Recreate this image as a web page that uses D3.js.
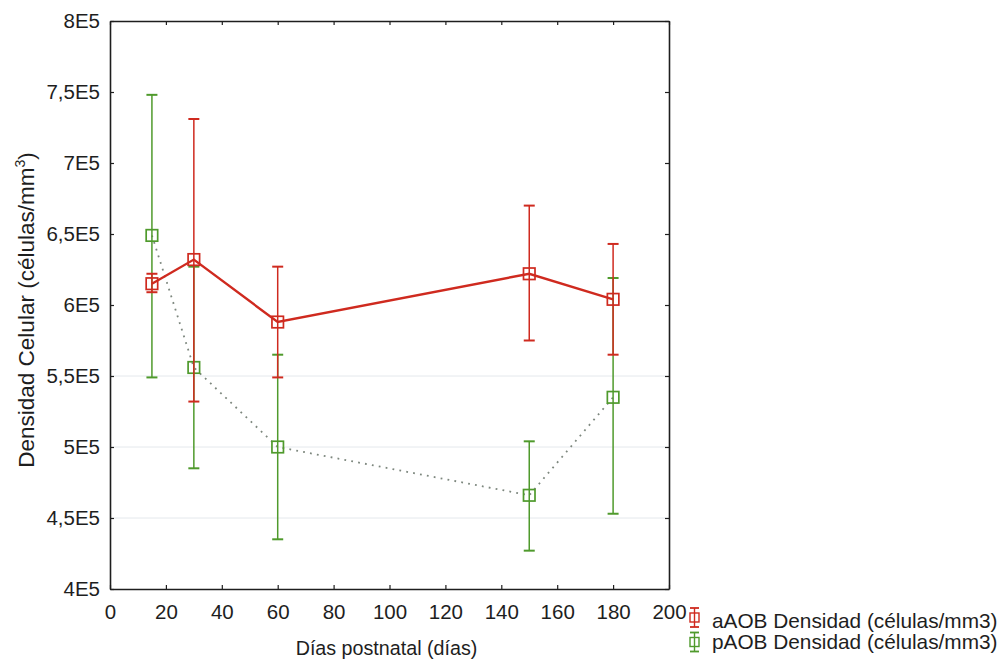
<!DOCTYPE html>
<html>
<head>
<meta charset="utf-8">
<script src="https://cdn.jsdelivr.net/npm/d3@7"></script>
<style>
  html, body { margin: 0; padding: 0; background: #fff; }
  svg { display: block; font-family: "Liberation Sans", Arial, sans-serif; }
</style>
</head>
<body>
<svg id="chart" width="1002" height="659"></svg>
<script>
// Postnatal days sampled
const days = [15, 30, 60, 150, 180];

// aAOB cell density: mean and error-bar limits
const aMean = [615000, 632000, 588000, 622000, 604000];
const aLow  = [609000, 532000, 549000, 575000, 565000];
const aHigh = [622000, 731000, 627000, 670000, 643000];

// pAOB cell density: mean and error-bar limits
const pMean = [649000, 556000, 500000, 466000, 535000];
const pLow  = [549000, 485000, 435000, 427000, 453000];
const pHigh = [748000, 627000, 565000, 504000, 619000];

const xTicks = [0, 20, 40, 60, 80, 100, 120, 140, 160, 180, 200];
const yTicks = [400000, 450000, 500000, 550000, 600000, 650000, 700000, 750000, 800000];
const yTickLabels = ["4E5", "4,5E5", "5E5", "5,5E5", "6E5", "6,5E5", "7E5", "7,5E5", "8E5"];
const gridValues = [450000, 500000, 550000];

const seriesNames = ["aAOB Densidad (células/mm3)", "pAOB Densidad (células/mm3)"];

const RED = "#cf2a1f";
const GREEN = "#4f9a2c";
const INK = "#1e1e1e";
const FONT = "'Liberation Sans', Arial, sans-serif";

const svg = d3.select("#chart");
const L = 110, R = 669, T = 21, B = 589;

const x = d3.scaleLinear().domain([0, 200]).range([L, R]);
const y = d3.scaleLinear().domain([400000, 800000]).range([B, T]);

// faint horizontal gridlines
svg.append("g").selectAll("line").data(gridValues).join("line")
  .attr("x1", L).attr("x2", R)
  .attr("y1", d => y(d)).attr("y2", d => y(d))
  .attr("stroke", "#e4e8ec").attr("stroke-width", 1);

// axes with inward ticks on all four sides
const fmtY = d => yTickLabels[yTicks.indexOf(d)];
const axL = svg.append("g").attr("transform", `translate(${L},0)`)
  .call(d3.axisLeft(y).tickValues(yTicks).tickFormat(fmtY).tickSizeInner(-4).tickSizeOuter(0).tickPadding(10));
const axB = svg.append("g").attr("transform", `translate(0,${B})`)
  .call(d3.axisBottom(x).tickValues(xTicks).tickFormat(d3.format("d")).tickSizeInner(-4).tickSizeOuter(0).tickPadding(10));
const axR = svg.append("g").attr("transform", `translate(${R},0)`)
  .call(d3.axisRight(y).tickValues(yTicks).tickFormat("").tickSizeInner(-4).tickSizeOuter(0));
const axT = svg.append("g").attr("transform", `translate(0,${T})`)
  .call(d3.axisTop(x).tickValues(xTicks).tickFormat("").tickSizeInner(-4).tickSizeOuter(0));

[axL, axB, axR, axT].forEach(g => {
  g.select(".domain").attr("stroke", INK).attr("stroke-width", 1.6);
  g.selectAll(".tick line").attr("stroke", INK).attr("stroke-width", 1.2);
  g.selectAll(".tick text").attr("fill", INK).attr("font-size", 20.5).attr("font-family", FONT);
});
axB.selectAll(".tick text").attr("y", 15).attr("dy", "0.71em");

// axis titles
svg.append("text")
  .attr("x", (L + R) / 2 - 3).attr("y", 655)
  .attr("text-anchor", "middle").attr("font-size", 19.7).attr("fill", INK)
  .text("Días postnatal (días)");

const yt = svg.append("text")
  .attr("transform", `translate(34,${(T + B) / 2 + 5}) rotate(-90)`)
  .attr("text-anchor", "middle").attr("font-size", 22.5).attr("fill", INK);
yt.append("tspan").text("Densidad Celular (células/mm");
yt.append("tspan").attr("font-size", 14).attr("dy", -9).text("3");
yt.append("tspan").attr("dy", 9).text(")");

const CAP = 5.5, SQ = 11.5;

function drawSeries(mean, low, high, color, lineStyle) {
  const pts = days.map((d, i) => ({ d, m: mean[i], lo: low[i], hi: high[i] }));
  const g = svg.append("g");

  // connecting line
  const line = d3.line().x(p => x(p.d)).y(p => y(p.m));
  const path = g.append("path").datum(pts).attr("d", line).attr("fill", "none");
  if (lineStyle === "solid") {
    path.attr("stroke", color).attr("stroke-width", 2.4);
  } else {
    path.attr("stroke", "#7d877e").attr("stroke-width", 1.8)
      .attr("stroke-dasharray", "1.8,5.2").attr("stroke-linecap", "butt");
  }

  // error bars
  const eb = g.append("g").attr("stroke", color).attr("stroke-width", 1.5);
  eb.selectAll(".v").data(pts).join("line")
    .attr("x1", p => x(p.d)).attr("x2", p => x(p.d))
    .attr("y1", p => y(p.lo)).attr("y2", p => y(p.hi));
  eb.selectAll(".hiCap").data(pts).join("line")
    .attr("x1", p => x(p.d) - CAP).attr("x2", p => x(p.d) + CAP)
    .attr("y1", p => y(p.hi)).attr("y2", p => y(p.hi)).attr("stroke-width", 2);
  eb.selectAll(".loCap").data(pts).join("line")
    .attr("x1", p => x(p.d) - CAP).attr("x2", p => x(p.d) + CAP)
    .attr("y1", p => y(p.lo)).attr("y2", p => y(p.lo)).attr("stroke-width", 2);

  // hollow square markers
  g.selectAll("rect").data(pts).join("rect")
    .attr("x", p => x(p.d) - SQ / 2).attr("y", p => y(p.m) - SQ / 2)
    .attr("width", SQ).attr("height", SQ)
    .attr("fill", "none").attr("stroke", color).attr("stroke-width", 1.7);
}

drawSeries(pMean, pLow, pHigh, GREEN, "dotted");
drawSeries(aMean, aLow, aHigh, RED, "solid");

// legend
const legend = svg.append("g");
const legendColors = [RED, GREEN];
seriesNames.forEach((name, i) => {
  const cy = 617.5 + i * 24.5;
  const cx = 694.5;
  const h = 9.5;
  const c = legendColors[i];
  const item = legend.append("g").attr("stroke", c).attr("fill", "none");
  item.append("line").attr("x1", cx).attr("x2", cx).attr("y1", cy - h).attr("y2", cy + h).attr("stroke-width", 1.4);
  item.append("line").attr("x1", cx - 4.5).attr("x2", cx + 4.5).attr("y1", cy - h).attr("y2", cy - h).attr("stroke-width", 1.8);
  item.append("line").attr("x1", cx - 4.5).attr("x2", cx + 4.5).attr("y1", cy + h).attr("y2", cy + h).attr("stroke-width", 1.8);
  item.append("rect").attr("x", cx - 4.5).attr("y", cy - 4.5).attr("width", 9).attr("height", 9).attr("stroke-width", 1.4);
  legend.append("text").attr("x", 712).attr("y", 628 + i * 21)
    .attr("font-size", 20.8).attr("fill", INK).text(name);
});
</script>
</body>
</html>
